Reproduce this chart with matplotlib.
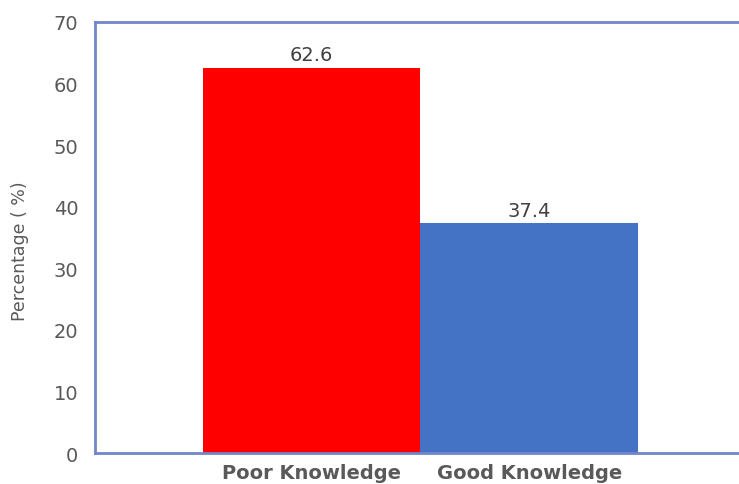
import matplotlib
matplotlib.use("Agg")
import matplotlib.pyplot as plt

# knowledge level split
categories = ["Poor Knowledge", "Good Knowledge"]
percentages = [62.6, 37.4]
bar_colors = ["#ff0000", "#4472c4"]
y_ticks = [0, 10, 20, 30, 40, 50, 60, 70]

plt.rcParams['font.family'] = ['DejaVu Sans']
text_gray = "#595959"
spine_blue = "#7186c8"

fig = plt.figure(figsize=(7.39, 4.85), dpi=100)
# axes runs a bit past the right edge of the figure, so no right border shows
ax = fig.add_axes([0.1286, 0.0639, 0.88, 0.8887])

x = range(len(categories))
ax.bar(x, percentages, width=1.0, color=bar_colors, zorder=2)
for xi, v in zip(x, percentages):
    ax.text(xi, v + 0.5, f"{v}", ha="center", va="bottom",
            fontsize=14, color="#404040")

ax.set_xlim(-0.995, 1.993)
ax.set_ylim(0, 70)
ax.set_yticks(y_ticks)
ax.set_xticks(list(x))
ax.set_xticklabels(categories, fontsize=14, color=text_gray, fontweight="bold")
ax.tick_params(axis="y", labelsize=14, labelcolor=text_gray, length=0, pad=12)
ax.tick_params(axis="x", length=0, pad=7)
ax.set_ylabel("Percentage ( %)", fontsize=12.5, color=text_gray)
ax.yaxis.set_label_coords(-0.102, 0.47)

for side in ["left", "top", "bottom"]:
    ax.spines[side].set_color(spine_blue)
    ax.spines[side].set_linewidth(2)
ax.spines["right"].set_visible(False)

fig.savefig("out.png", dpi=100)
